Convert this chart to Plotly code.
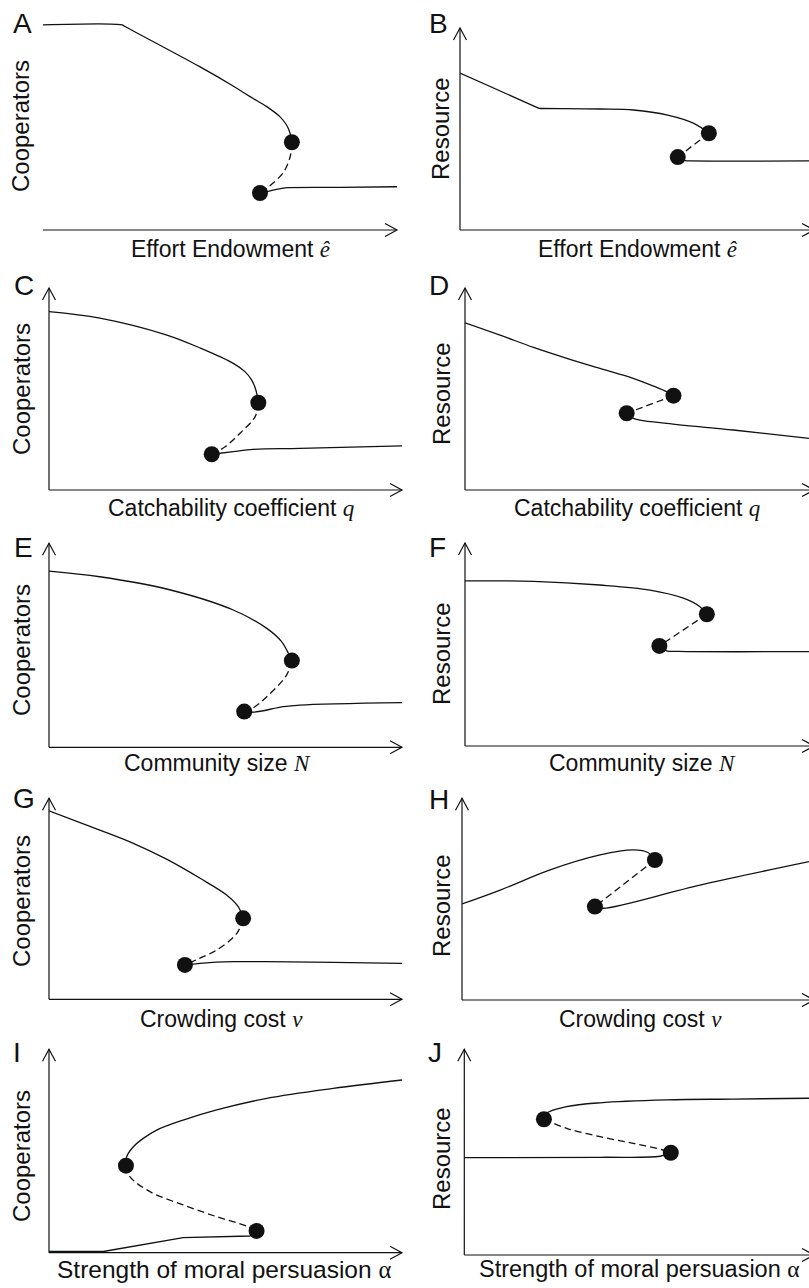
import plotly.graph_objects as go

W, H = 809, 1288
INK = "#111111"
SANS = "Liberation Sans, Arial, sans-serif"
SERIF = "Liberation Serif, Times New Roman, serif"

# ---------------- data (values in axis units, 0-100 of each panel) ----------------
# A: Cooperators vs effort endowment
A_hi_x = [0, 22.3, 23.0, 44.4, 53.7, 58.5, 63.2, 66.9, 68.8, 69.8, 70.3]
A_hi_y = [98.6, 98.6, 97.95, 78.4, 69.2, 64.1, 59.3, 54.5, 50.5, 46.5, 42.2]
A_mid_x = [70.3, 69.8, 67.8, 65.0, 63.3, 61.3]
A_mid_y = [42.2, 35.1, 27.4, 22.6, 20.2, 17.8]
A_lo_x = [61.3, 68.4, 69.5, 83.9, 100]
A_lo_y = [17.8, 20.3, 20.4, 20.5, 20.8]

# B: Resource vs effort endowment
B_hi_x = [0, 22.0, 22.7, 23.4, 40.2, 49.7, 59.5, 67.0, 71.3]
B_hi_y = [77.7, 60.7, 60.2, 60.15, 59.9, 59.4, 56.9, 52.8, 47.9]
B_mid_x = [71.3, 62.4]
B_mid_y = [47.9, 36.1]
B_lo_x = [62.4, 64.6, 66.0, 100]
B_lo_y = [36.1, 34.3, 34.2, 34.2]

# C: Cooperators vs catchability coefficient
C_hi_x = [0, 14.4, 33.4, 42.8, 52.2, 55.5, 57.4, 58.6, 59.3]
C_hi_y = [88.3, 85.1, 76.7, 70.3, 62.7, 58.6, 54.5, 49.5, 43.2]
C_mid_x = [59.3, 58.4, 54.1, 49.9, 46.1]
C_mid_y = [43.2, 36.3, 28.1, 21.4, 17.7]
C_lo_x = [46.1, 52.2, 57.9, 71.1, 100]
C_lo_y = [17.7, 19.0, 20.1, 20.6, 21.8]

# D: Resource vs catchability coefficient
D_hi_x = [0, 10.2, 19.9, 29.6, 39.2, 48.9, 54.7, 58.6, 60.6]
D_hi_y = [82.8, 76.7, 70.6, 65.2, 60.2, 55.3, 51.5, 48.7, 46.7]
D_mid_x = [60.6, 47.0]
D_mid_y = [46.7, 38.0]
D_lo_x = [47.0, 48.9, 58.6, 78.0, 100]
D_lo_y = [38.0, 35.5, 33.0, 29.7, 25.6]

# E: Cooperators vs community size
E_hi_x = [0, 14.4, 33.3, 52.2, 61.7, 65.9, 67.8, 68.8]
E_hi_y = [86.4, 83.6, 77.6, 67.3, 58.3, 51.8, 46.1, 42.5]
E_mid_x = [68.8, 67.3, 61.7, 57.8, 55.3]
E_mid_y = [42.5, 35.4, 24.8, 19.3, 17.5]
E_lo_x = [55.3, 57.9, 66.4, 71.1, 100]
E_lo_y = [17.5, 17.2, 19.9, 20.7, 21.9]

# F: Resource vs community size
F_hi_x = [0, 19.9, 39.2, 53.8, 63.5, 68.3, 70.3]
F_hi_y = [81.3, 81.1, 79.3, 76.8, 72.8, 68.6, 64.9]
F_mid_x = [70.3, 56.5]
F_mid_y = [64.9, 49.3]
F_lo_x = [56.5, 58.6, 62.0, 100]
F_lo_y = [49.3, 46.9, 46.6, 46.5]

# G: Cooperators vs crowding cost
G_hi_x = [0, 14.4, 23.9, 33.3, 42.8, 50.3, 53.6, 55.0]
G_hi_y = [93.8, 84.2, 77.6, 69.7, 60.2, 51.9, 46.1, 40.3]
G_mid_x = [55.0, 53.2, 47.5, 42.8, 38.5]
G_mid_y = [40.3, 32.8, 24.5, 20.5, 17.1]
G_lo_x = [38.5, 42.8, 52.2, 61.7, 80.5, 100]
G_lo_y = [17.1, 17.9, 18.7, 18.7, 18.4, 17.9]

# H: Resource vs crowding cost
H_hi_x = [0, 11.0, 25.4, 39.8, 49.4, 53.7, 55.6]
H_hi_y = [47.6, 54.5, 64.5, 71.9, 74.4, 73.0, 69.4]
H_mid_x = [55.6, 38.3]
H_mid_y = [69.4, 46.3]
H_lo_x = [38.3, 40.7, 68.6, 100]
H_lo_y = [46.3, 45.5, 57.0, 68.6]

# I: Cooperators vs strength of moral persuasion
I_hi_x = [21.8, 22.0, 23.9, 26.7, 30.5, 38.0, 47.5, 61.7, 80.5, 100]
I_hi_y = [42.8, 47.2, 52.1, 56.2, 60.3, 65.2, 70.2, 75.9, 80.8, 84.9]
I_mid_x = [21.8, 22.9, 28.6, 38.0, 47.5, 56.0, 58.8]
I_mid_y = [42.8, 37.4, 30.0, 23.5, 17.7, 13.1, 10.7]
I_lo_x = [0, 15.4, 38.0, 56.9, 58.8]
I_lo_y = [0.6, 0.6, 7.4, 8.2, 10.7]

# J: Resource vs strength of moral persuasion
J_hi_x = [23.1, 23.9, 29.7, 39.4, 58.7, 78.0, 100]
J_hi_y = [66.0, 68.9, 72.1, 74.0, 75.4, 75.8, 76.2]
J_mid_x = [23.1, 29.7, 39.4, 49.0, 57.7, 59.9]
J_mid_y = [66.0, 61.6, 57.5, 54.3, 51.0, 49.7]
J_lo_x = [0, 39.4, 56.8, 59.9]
J_lo_y = [47.3, 47.5, 48.0, 49.7]

SERIES = {
    "A": (A_hi_x, A_hi_y, A_mid_x, A_mid_y, A_lo_x, A_lo_y),
    "B": (B_hi_x, B_hi_y, B_mid_x, B_mid_y, B_lo_x, B_lo_y),
    "C": (C_hi_x, C_hi_y, C_mid_x, C_mid_y, C_lo_x, C_lo_y),
    "D": (D_hi_x, D_hi_y, D_mid_x, D_mid_y, D_lo_x, D_lo_y),
    "E": (E_hi_x, E_hi_y, E_mid_x, E_mid_y, E_lo_x, E_lo_y),
    "F": (F_hi_x, F_hi_y, F_mid_x, F_mid_y, F_lo_x, F_lo_y),
    "G": (G_hi_x, G_hi_y, G_mid_x, G_mid_y, G_lo_x, G_lo_y),
    "H": (H_hi_x, H_hi_y, H_mid_x, H_mid_y, H_lo_x, H_lo_y),
    "I": (I_hi_x, I_hi_y, I_mid_x, I_mid_y, I_lo_x, I_lo_y),
    "J": (J_hi_x, J_hi_y, J_mid_x, J_mid_y, J_lo_x, J_lo_y),
}
LINEAR_LOW = {"I"}

def sym(s, italic=True):
    t = f"<i>{s}</i>" if italic else s
    return f'<span style="font-family:{SERIF}">{t}</span>'

X_LABELS = {
    "A": "Effort Endowment " + sym("ê"),
    "B": "Effort Endowment " + sym("ê"),
    "C": "Catchability coefficient " + sym("q"),
    "D": "Catchability coefficient " + sym("q"),
    "E": "Community size " + sym("N"),
    "F": "Community size " + sym("N"),
    "G": "Crowding cost " + sym("ν"),
    "H": "Crowding cost " + sym("ν"),
    "I": "Strength of moral persuasion " + sym("α", False),
    "J": "Strength of moral persuasion " + sym("α", False),
}
Y_LABELS = {k: ("Cooperators" if k in "ACEGI" else "Resource") for k in "ABCDEFGHIJ"}

# ---------------- layout geometry (pixels) ----------------
# panel box: y-axis x, x-axis arrow tip x, x-axis y, y-axis arrow tip y
BOX = {
    "A": (43, 397, 230, 22),
    "B": (460, 809, 230, 28),
    "C": (49, 402, 490, 288),
    "D": (465, 809, 490, 288),
    "E": (49, 402, 747.3, 543.3),
    "F": (465, 809, 746, 543),
    "G": (49, 402, 999.3, 798.3),
    "H": (462, 809, 1000, 798.3),
    "I": (49, 402, 1252.7, 1049.3),
    "J": (464.3, 809, 1255, 1049.3),
}
XLAB_POS = {"A": (231, 249), "B": (638, 249), "C": (231, 508), "D": (637, 508),
            "E": (218, 763), "F": (642, 763), "G": (221, 1019), "H": (640, 1019),
            "I": (224, 1269), "J": (639, 1269)}
XLAB_SIZE = {"I": 24.5, "J": 23.5}
YLAB_POS = {"A": (21, 126), "B": (441, 129), "C": (21, 389), "D": (441, 394),
            "E": (21, 650), "F": (441, 654), "G": (21, 901), "H": (441, 906),
            "I": (21, 1156), "J": (441, 1159)}
LETTER_POS = {"A": (11, 33), "B": (427, 33), "C": (12, 295), "D": (427, 295),
              "E": (12, 557), "F": (427, 557), "G": (11, 808), "H": (427, 809),
              "I": (11, 1062), "J": (426, 1062)}

def px(x):
    return x / W

def py(y):
    return 1 - y / H

fig = go.Figure()
shapes = []
annotations = []
layout_axes = {}
AXW = 1.2
CURVE = dict(color=INK, width=1.3, shape="spline", smoothing=1.0)

for i, key in enumerate("ABCDEFGHIJ"):
    n = i + 1
    xa = "x" if n == 1 else f"x{n}"
    ya = "y" if n == 1 else f"y{n}"
    x0, x1, yb, yt = BOX[key]
    layout_axes["xaxis" if n == 1 else f"xaxis{n}"] = dict(
        domain=[px(x0), min(px(x1), 1.0)], range=[0, 100], visible=False, anchor=ya, fixedrange=True)
    layout_axes["yaxis" if n == 1 else f"yaxis{n}"] = dict(
        domain=[py(yb), py(yt)], range=[0, 100], visible=False, anchor=xa, fixedrange=True)

    hx, hy, mx, my, lx, ly = SERIES[key]
    fig.add_trace(go.Scatter(x=hx, y=hy, mode="lines", xaxis=xa, yaxis=ya, showlegend=False,
                             hoverinfo="skip", line=CURVE))
    low_line = dict(color=INK, width=1.3) if key in LINEAR_LOW else CURVE
    fig.add_trace(go.Scatter(x=lx, y=ly, mode="lines", xaxis=xa, yaxis=ya, showlegend=False,
                             hoverinfo="skip", line=low_line))
    fig.add_trace(go.Scatter(x=mx, y=my, mode="lines", xaxis=xa, yaxis=ya, showlegend=False,
                             hoverinfo="skip", line=dict(CURVE, dash="7px,4px")))
    fig.add_trace(go.Scatter(x=[mx[0], mx[-1]], y=[my[0], my[-1]], mode="markers", xaxis=xa, yaxis=ya,
                             showlegend=False, cliponaxis=False, hoverinfo="skip",
                             marker=dict(size=16, color=INK, line=dict(width=0))))

    # x axis with open arrow
    tip = x1 if x1 < W else W + 5
    shapes.append(dict(type="line", xref="paper", yref="paper", x0=px(x0), x1=px(tip),
                       y0=py(yb), y1=py(yb), line=dict(color=INK, width=AXW)))
    shapes.append(dict(type="path", xref="paper", yref="paper", xsizemode="pixel", ysizemode="pixel",
                       xanchor=px(tip), yanchor=py(yb), path="M -12,6.5 L 0,0 L -12,-6.5",
                       line=dict(color=INK, width=AXW)))
    if key != "A":
        shapes.append(dict(type="line", xref="paper", yref="paper", x0=px(x0), x1=px(x0),
                           y0=py(yb), y1=py(yt), line=dict(color=INK, width=AXW)))
        shapes.append(dict(type="path", xref="paper", yref="paper", xsizemode="pixel", ysizemode="pixel",
                           xanchor=px(x0), yanchor=py(yt), path="M -6.5,-12 L 0,0 L 6.5,-12",
                           line=dict(color=INK, width=AXW)))

    cx, cy = XLAB_POS[key]
    annotations.append(dict(text=X_LABELS[key], xref="paper", yref="paper", x=px(cx), y=py(cy),
                            xanchor="center", yanchor="middle", showarrow=False,
                            font=dict(family=SANS, size=XLAB_SIZE.get(key, 23), color=INK)))
    cx, cy = YLAB_POS[key]
    annotations.append(dict(text=Y_LABELS[key], xref="paper", yref="paper", x=px(cx), y=py(cy),
                            xanchor="center", yanchor="middle", textangle=-90, showarrow=False,
                            font=dict(family=SANS, size=24, color=INK)))
    lx0, lbase = LETTER_POS[key]
    annotations.append(dict(text=key, xref="paper", yref="paper", x=px(lx0), y=py(lbase - 10),
                            xanchor="left", yanchor="middle", showarrow=False,
                            font=dict(family=SANS, size=28, color=INK)))

fig.update_layout(width=W, height=H, margin=dict(l=0, r=0, t=0, b=0),
                  paper_bgcolor="white", plot_bgcolor="white", hovermode=False,
                  shapes=shapes, annotations=annotations, **layout_axes)

fig.write_html("out.html", config={"displayModeBar": False, "staticPlot": True},
               post_script="document.body.style.margin='0px';")
